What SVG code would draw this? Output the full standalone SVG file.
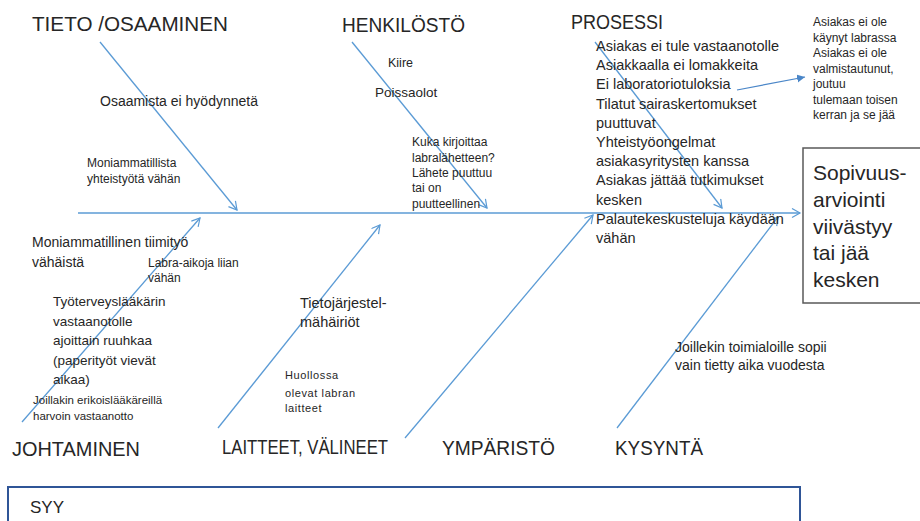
<svg xmlns="http://www.w3.org/2000/svg" width="920" height="521" viewBox="0 0 920 521">
  <defs>
    <marker id="open" markerUnits="userSpaceOnUse" markerWidth="12" markerHeight="12" refX="9" refY="5" orient="auto">
      <path d="M1,0.5 L9,5 L1,9.5" fill="none" stroke="#5b9bd5" stroke-width="1.2"/>
    </marker>
    <marker id="solid" markerUnits="userSpaceOnUse" markerWidth="10" markerHeight="10" refX="8" refY="4" orient="auto">
      <path d="M0,0 L8,4 L0,8 Z" fill="#4a86c8"/>
    </marker>
    <style>
      text { font-family: "Liberation Sans", Arial, sans-serif; fill: #262626; }
      .cat { font-size: 21px; }
      .big { font-size: 21px; }
      .m14 { font-size: 14px; }
      .m145 { font-size: 14.5px; }
      .m135 { font-size: 13.5px; }
      .s12 { font-size: 12px; }
      .s115 { font-size: 11.5px; }
      .s11 { font-size: 11px; letter-spacing: 0.6px; }
      .bone { stroke: #5b9bd5; stroke-width: 1.3; fill: none; marker-end: url(#open); }
      .note { stroke: #4a86c8; stroke-width: 1.2; fill: none; marker-end: url(#solid); }
    </style>
  </defs>
  <rect width="920" height="521" fill="#ffffff"/>

  <!-- spine and category bones -->
  <g id="connectors">
    <line class="bone" x1="78" y1="213" x2="800" y2="213"/>
    <line class="bone" x1="100" y1="42" x2="237" y2="210"/>
    <line class="bone" x1="352" y1="42" x2="487" y2="208"/>
    <line class="bone" x1="595" y1="42" x2="722" y2="208"/>
    <line class="bone" x1="22" y1="422" x2="200" y2="218"/>
    <line class="bone" x1="218" y1="428" x2="380" y2="225"/>
    <line class="bone" x1="405" y1="438" x2="593" y2="215"/>
    <line class="bone" x1="617" y1="428" x2="778" y2="217"/>
    <line class="note" x1="737" y1="90" x2="805" y2="77"/>
  </g>

  <!-- categories -->
  <g id="tieto">
    <text class="cat" x="32" y="31" textLength="196" lengthAdjust="spacingAndGlyphs">TIETO /OSAAMINEN</text>
    <text class="m14" x="100" y="106">Osaamista ei hyödynnetä</text>
    <text class="s12" x="87" y="167">Moniammatillista</text>
    <text class="s12" x="87" y="183">yhteistyötä vähän</text>
  </g>

  <g id="henkilosto">
    <text class="cat" x="342" y="32" textLength="123" lengthAdjust="spacingAndGlyphs">HENKILÖSTÖ</text>
    <text x="388" y="67" font-size="12.5">Kiire</text>
    <text class="m135" x="375" y="97">Poissaolot</text>
    <text class="s12" x="412" y="146">Kuka kirjoittaa</text>
    <text class="s12" x="412" y="162">labralähetteen?</text>
    <text class="s12" x="412" y="177">Lähete puuttuu</text>
    <text class="s12" x="412" y="192">tai on</text>
    <text class="s12" x="412" y="208">puutteellinen</text>
  </g>

  <g id="prosessi">
    <text class="cat" x="571" y="29" textLength="92" lengthAdjust="spacingAndGlyphs">PROSESSI</text>
    <text class="m145" x="596" y="51">Asiakas ei tule vastaanotolle</text>
    <text class="m145" x="596" y="70.2">Asiakkaalla ei lomakkeita</text>
    <text class="m145" x="596" y="89.4">Ei laboratoriotuloksia</text>
    <text class="m145" x="596" y="108.6">Tilatut sairaskertomukset</text>
    <text class="m145" x="596" y="127.8">puuttuvat</text>
    <text class="m145" x="596" y="147">Yhteistyöongelmat</text>
    <text class="m145" x="596" y="166.2">asiakasyritysten kanssa</text>
    <text class="m145" x="596" y="185.4">Asiakas jättää tutkimukset</text>
    <text class="m145" x="596" y="204.6">kesken</text>
    <text class="m145" x="596" y="223.8">Palautekeskusteluja käydään</text>
    <text class="m145" x="596" y="243">vähän</text>
  </g>

  <g id="prosessi-note">
    <text class="s12" x="813" y="26">Asiakas ei ole</text>
    <text class="s12" x="813" y="41.5">käynyt labrassa</text>
    <text class="s12" x="813" y="57">Asiakas ei ole</text>
    <text class="s12" x="813" y="72.5">valmistautunut,</text>
    <text class="s12" x="813" y="88">joutuu</text>
    <text class="s12" x="813" y="103.5">tulemaan toisen</text>
    <text class="s12" x="813" y="119">kerran ja se jää</text>
  </g>

  <g id="johtaminen">
    <text class="cat" x="12" y="456" textLength="128" lengthAdjust="spacingAndGlyphs">JOHTAMINEN</text>
    <text class="m14" x="32" y="247">Moniammatillinen tiimityö</text>
    <text class="m14" x="32" y="267">vähäistä</text>
    <text class="s12" x="148" y="267">Labra-aikoja liian</text>
    <text class="s12" x="148" y="282">vähän</text>
    <text class="m135" x="53" y="306">Työterveyslääkärin</text>
    <text class="m135" x="53" y="325.5">vastaanotolle</text>
    <text class="m135" x="53" y="345">ajoittain ruuhkaa</text>
    <text class="m135" x="53" y="364.5">(paperityöt vievät</text>
    <text class="m135" x="53" y="384">aikaa)</text>
    <text class="s115" x="33" y="404">Joillakin erikoislääkäreillä</text>
    <text class="s115" x="33" y="420">harvoin vastaanotto</text>
  </g>

  <g id="laitteet">
    <text class="cat" x="222" y="454" textLength="166" lengthAdjust="spacingAndGlyphs">LAITTEET, VÄLINEET</text>
    <text class="m145" x="300" y="308">Tietojärjestel-</text>
    <text class="m145" x="300" y="327">mähäiriöt</text>
    <text class="s11" x="285" y="379">Huollossa</text>
    <text class="s11" x="285" y="397">olevat labran</text>
    <text class="s11" x="285" y="412">laitteet</text>
  </g>

  <g id="ymparisto">
    <text class="cat" x="442" y="455" textLength="113" lengthAdjust="spacingAndGlyphs">YMPÄRISTÖ</text>
  </g>

  <g id="kysynta">
    <text class="cat" x="615" y="455" textLength="88" lengthAdjust="spacingAndGlyphs">KYSYNTÄ</text>
    <text class="m14" x="675" y="352">Joillekin toimialoille sopii</text>
    <text class="m14" x="675" y="370">vain tietty aika vuodesta</text>
  </g>

  <!-- effect -->
  <g id="effect">
    <rect x="803" y="148" width="130" height="155" fill="#ffffff" stroke="#595959" stroke-width="1.5"/>
    <text class="big" x="813" y="180">Sopivuus-</text>
    <text class="big" x="813" y="207">arviointi</text>
    <text class="big" x="813" y="234">viivästyy</text>
    <text class="big" x="813" y="260">tai jää</text>
    <text class="big" x="813" y="287">kesken</text>
  </g>

  <!-- cause caption -->
  <g id="syy">
    <rect x="8" y="487" width="792" height="50" fill="none" stroke="#2f5597" stroke-width="2"/>
    <text x="30" y="513" font-size="17">SYY</text>
  </g>
</svg>
